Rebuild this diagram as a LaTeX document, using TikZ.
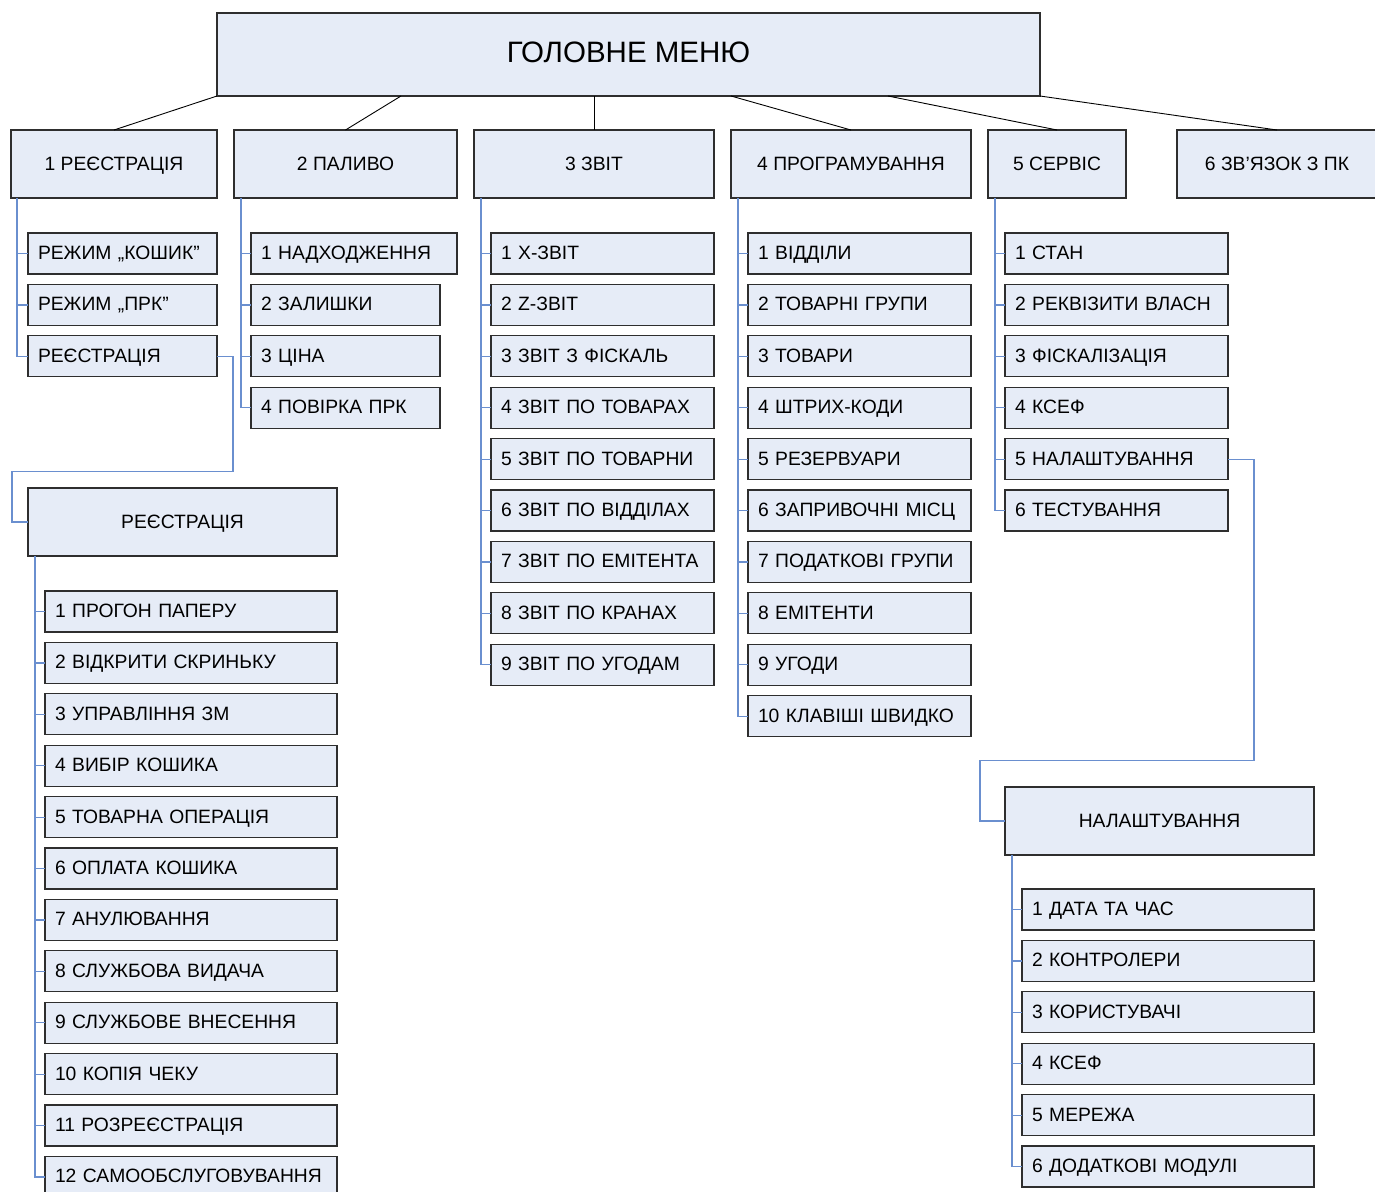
\documentclass[tikz,border=0pt]{standalone}
\usepackage{fontspec}
\setmainfont{Liberation Sans}
\definecolor{boxfill}{HTML}{E6ECF7}
\definecolor{boxdraw}{HTML}{2E2E2E}
\definecolor{connblue}{HTML}{6A8FCF}
\begin{document}
\begin{tikzpicture}[x=1pt,y=-1pt,
  base/.style={draw=boxdraw,fill=boxfill,line width=1.3pt,outer sep=0pt,anchor=north west,
    font=\fontsize{19.3}{22}\selectfont,text height=15pt,text depth=3pt},
  titlebox/.style={base,minimum width=823,minimum height=83,font=\fontsize{29.5}{34}\selectfont,
    text height=21pt,text depth=6pt},
  lvlbox/.style={base,minimum height=68,align=center},
  bigbox/.style={base,minimum width=309,minimum height=68,align=center},
  subbox/.style={base,minimum height=41,inner xsep=10pt,inner ysep=0pt,align=left,text width=#1-20},
  conn/.style={draw=connblue,line width=1.2pt},
  topline/.style={draw=black,line width=0.9pt}]
\useasboundingbox (0,0) rectangle (1375,1191);

% title
\node[titlebox] (title) at (217,13) {ГОЛОВНЕ МЕНЮ};

% level 1
\node[lvlbox,minimum width=206] (l1) at (11,130) {1 РЕЄСТРАЦІЯ};
\node[lvlbox,minimum width=223] (l2) at (234,130) {2 ПАЛИВО};
\node[lvlbox,minimum width=240] (l3) at (474,130) {3 ЗВІТ};
\node[lvlbox,minimum width=240] (l4) at (731,130) {4 ПРОГРАМУВАННЯ};
\node[lvlbox,minimum width=138] (l5) at (988,130) {5 СЕРВІС};
\node[lvlbox,minimum width=200] (l6) at (1177,130) {6 ЗВ’ЯЗОК З ПК};

% top connectors
\draw[topline] (title.south west) -- (l1.north);
\draw[topline] ([xshift=184pt]title.south west) -- (l2.north);
\draw[topline] ([xshift=377pt]title.south west) -- (l3.north);
\draw[topline] ([xshift=514pt]title.south west) -- (l4.north);
\draw[topline] ([xshift=671pt]title.south west) -- (l5.north);
\draw[topline] (title.south east) -- (l6.north);

% 1 REGISTRATION children
\foreach \t [count=\i] in {РЕЖИМ „КОШИК”, РЕЖИМ „ПРК”, РЕЄСТРАЦІЯ}{
  \node[subbox=189] (a\i) at (28,{233+51.4*(\i-1)}) {\t};
  \draw[conn] ([xshift=6pt]l1.south west) |- (a\i.west);
}

% 2 FUEL children
\node[subbox=206] (b1) at (251,233) {1 НАДХОДЖЕННЯ};
\draw[conn] ([xshift=7pt]l2.south west) |- (b1.west);
\foreach \t [count=\i from 2] in {2 ЗАЛИШКИ, 3 ЦІНА, 4 ПОВІРКА ПРК}{
  \node[subbox=189] (b\i) at (251,{233+51.4*(\i-1)}) {\t};
  \draw[conn] ([xshift=7pt]l2.south west) |- (b\i.west);
}

% 3 REPORT children
\foreach \t [count=\i] in {1 X-ЗВІТ, 2 Z-ЗВІТ, 3 ЗВІТ З ФІСКАЛЬ, 4 ЗВІТ ПО ТОВАРАХ, 5 ЗВІТ ПО ТОВАРНИ,
  6 ЗВІТ ПО ВІДДІЛАХ, 7 ЗВІТ ПО ЕМІТЕНТА, 8 ЗВІТ ПО КРАНАХ, 9 ЗВІТ ПО УГОДАМ}{
  \node[subbox=223] (c\i) at (491,{233+51.4*(\i-1)}) {\t};
  \draw[conn] ([xshift=7pt]l3.south west) |- (c\i.west);
}

% 4 PROGRAMMING children
\foreach \t [count=\i] in {1 ВІДДІЛИ, 2 ТОВАРНІ ГРУПИ, 3 ТОВАРИ, 4 ШТРИХ-КОДИ, 5 РЕЗЕРВУАРИ,
  6 ЗАПРИВОЧНІ МІСЦ, 7 ПОДАТКОВІ ГРУПИ, 8 ЕМІТЕНТИ, 9 УГОДИ, 10 КЛАВІШІ ШВИДКО}{
  \node[subbox=223] (d\i) at (748,{233+51.4*(\i-1)}) {\t};
  \draw[conn] ([xshift=7pt]l4.south west) |- (d\i.west);
}

% 5 SERVICE children
\foreach \t [count=\i] in {1 СТАН, 2 РЕКВІЗИТИ ВЛАСН, 3 ФІСКАЛІЗАЦІЯ, 4 КСЕФ, 5 НАЛАШТУВАННЯ, 6 ТЕСТУВАННЯ}{
  \node[subbox=223] (e\i) at (1005,{233+51.4*(\i-1)}) {\t};
  \draw[conn] ([xshift=7pt]l5.south west) |- (e\i.west);
}

% big REGISTRATION
\node[bigbox] (reg) at (28,488) {РЕЄСТРАЦІЯ};
\draw[conn] (a3.east) -- ++(16,0) -- ++(0,115) -| ([xshift=-16pt]reg.west) -- (reg.west);
\foreach \t [count=\i] in {1 ПРОГОН ПАПЕРУ, 2 ВІДКРИТИ СКРИНЬКУ, 3 УПРАВЛІННЯ ЗМ, 4 ВИБІР КОШИКА,
  5 ТОВАРНА ОПЕРАЦІЯ, 6 ОПЛАТА КОШИКА, 7 АНУЛЮВАННЯ, 8 СЛУЖБОВА ВИДАЧА, 9 СЛУЖБОВЕ ВНЕСЕННЯ,
  10 КОПІЯ ЧЕКУ, 11 РОЗРЕЄСТРАЦІЯ, 12 САМООБСЛУГОВУВАННЯ}{
  \node[subbox=292] (f\i) at (45,{591+51.4*(\i-1)}) {\t};
  \draw[conn] ([xshift=7pt]reg.south west) |- (f\i.west);
}

% big SETTINGS
\node[bigbox] (nal) at (1005,787) {НАЛАШТУВАННЯ};
\draw[conn] (e5.east) -- ++(26,0) -- ++(0,301) -| ([xshift=-25pt]nal.west) -- (nal.west);
\foreach \t [count=\i] in {1 ДАТА ТА ЧАС, 2 КОНТРОЛЕРИ, 3 КОРИСТУВАЧІ, 4 КСЕФ, 5 МЕРЕЖА, 6 ДОДАТКОВІ МОДУЛІ}{
  \node[subbox=292] (g\i) at (1022,{889+51.4*(\i-1)}) {\t};
  \draw[conn] ([xshift=7pt]nal.south west) |- (g\i.west);
}
\end{tikzpicture}
\end{document}
